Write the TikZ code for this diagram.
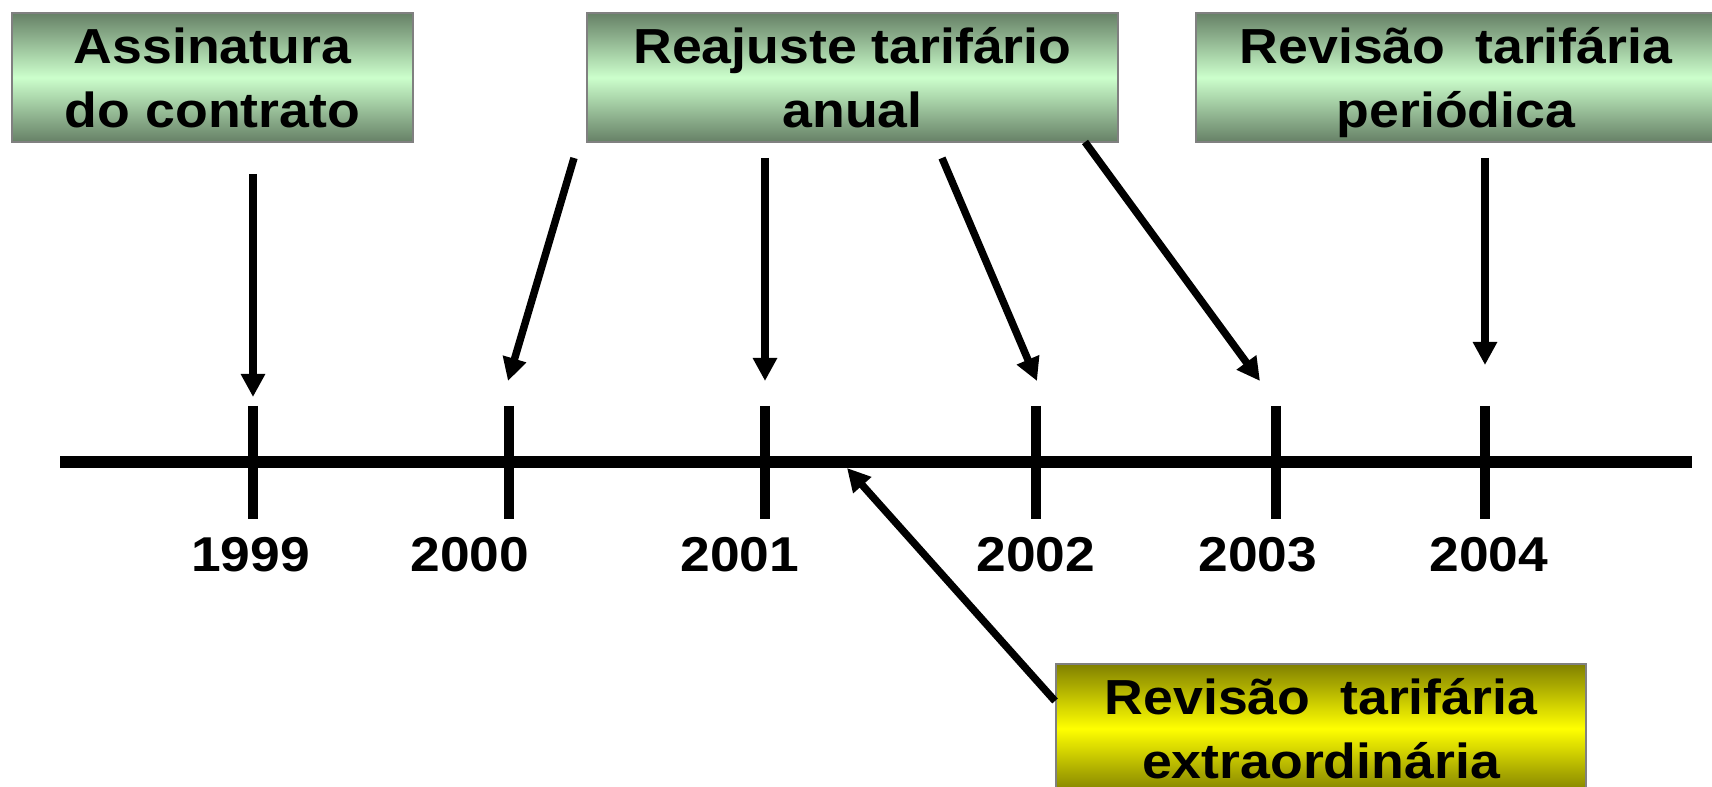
\documentclass[tikz,border=0pt]{standalone}
\usepackage{fontspec}
\setmainfont{Liberation Sans}
\newfontfamily\slidefont[FakeStretch=1.09]{Liberation Sans}
\usepackage{tikz}
\usetikzlibrary{arrows.meta, positioning, calc}
\definecolor{boxgreen}{RGB}{204, 255, 204}
\definecolor{boxdark}{RGB}{102, 128, 102}
\definecolor{boxyellow}{RGB}{255, 255, 0}
\definecolor{boxolive}{RGB}{128, 128, 0}
\definecolor{boxedge}{RGB}{128, 128, 128}
\tikzset{
    eventbox/.style={rectangle, draw=boxedge, line width=1.4pt, top color=boxdark, bottom color=boxdark, middle color=boxgreen, minimum height=3.225cm, inner sep=0pt, text depth=0pt, align=center, font=\slidefont\bfseries\fontsize{35pt}{45.5pt}\selectfont},
    extrabox/.style={eventbox, top color=boxolive, bottom color=boxolive, middle color=boxyellow},
    yearlabel/.style={font=\slidefont\bfseries\fontsize{34.8pt}{40pt}\selectfont, inner sep=0pt},
    pointer/.style={-{Triangle[width=16.4pt, length=16.4pt]}, line width=5.3pt},
    timeline/.style={line width=8.5pt},
    tickmark/.style={line width=7.8pt}
}

\begin{document}
\begin{tikzpicture}[x=0.025cm, y=-0.025cm]
    \useasboundingbox (0,0) rectangle (1712,787);

    \node[eventbox, minimum width=10.025cm] (contract) at (212.5,77.5) {Assinatura\\do contrato};
    \node[eventbox, minimum width=13.25cm] (annual) at (852.5,77.5) {Reajuste tarifário\\anual};
    \node[eventbox, minimum width=13cm] (periodic) at (1456,77.5) {Revisão\ \ tarifária\\periódica};
    \node[extrabox, minimum width=13.25cm] (extra) at (1321,728.5) {Revisão\ \ tarifária\\extraordinária};

    % timeline
    \coordinate (tlstart) at (60,462);
    \coordinate (tlend) at (1692,462);
    \draw[timeline] (tlstart) -- (tlend);

    \foreach \yr/\xx/\lx in {1999/253/250.5, 2000/509/470, 2001/765/740, 2002/1036/1036, 2003/1276/1258, 2004/1485/1489} {
        \coordinate (t\yr) at (\xx,462);
        \draw[tickmark] ($(t\yr)+(0,-56)$) -- ($(t\yr)+(0,57)$);
        \node[yearlabel] (y\yr) at (\lx,554.5) {\yr};
    }

    % pointers
    \coordinate (s1999) at (253,174);  \coordinate (e1999) at (253,397);
    \coordinate (s2000) at (574,158);  \coordinate (e2000) at (508,381);
    \coordinate (s2001) at (765,158);  \coordinate (e2001) at (765,381);
    \coordinate (s2002) at (942,158);  \coordinate (e2002) at (1037,381);
    \coordinate (s2003) at (1085,142); \coordinate (e2003) at (1260,381);
    \coordinate (s2004) at (1485,158); \coordinate (e2004) at (1485,365);
    \coordinate (sextra) at (1055,701); \coordinate (eextra) at (847,468);

    \draw[pointer] (s1999) -- (e1999);
    \draw[pointer] (s2000) -- (e2000);
    \draw[pointer] (s2001) -- (e2001);
    \draw[pointer] (s2002) -- (e2002);
    \draw[pointer] (s2003) -- (e2003);
    \draw[pointer] (s2004) -- (e2004);
    \draw[pointer] (sextra) -- (eextra);

\end{tikzpicture}
\end{document}
